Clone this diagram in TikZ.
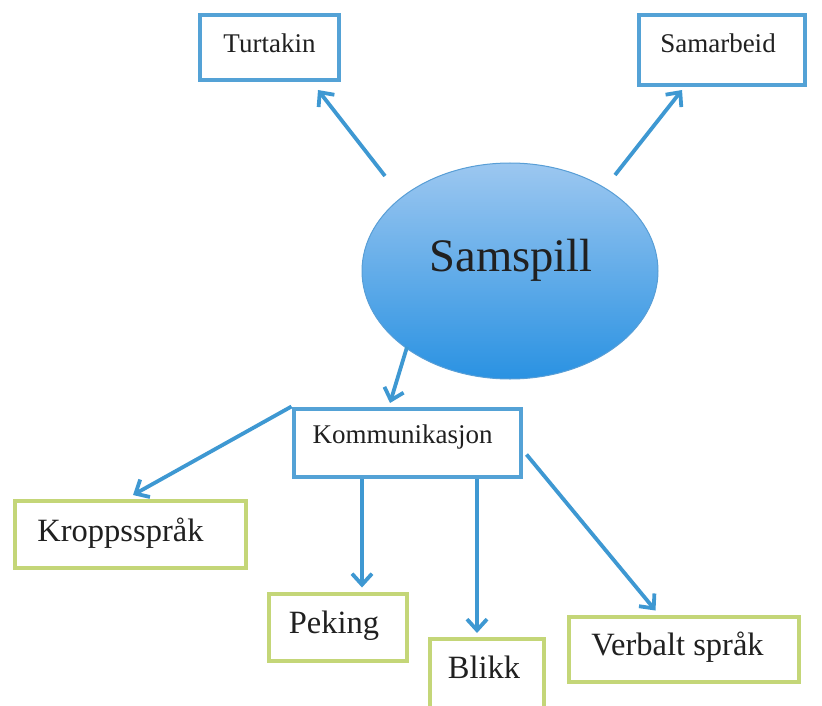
\documentclass[tikz,border=0pt]{standalone}
\usepackage{fontspec}
\setmainfont{Liberation Serif}
\usetikzlibrary{arrows.meta,calc,shapes.geometric}
\definecolor{boxblue}{RGB}{84,162,214}
\definecolor{arrblue}{RGB}{62,152,210}
\definecolor{boxgreen}{RGB}{196,214,120}
\definecolor{ellout}{RGB}{88,158,214}
\definecolor{elltop}{RGB}{156,199,240}
\definecolor{ellmid}{RGB}{118,182,236}
\definecolor{ellbot}{RGB}{42,146,226}
\definecolor{txt}{RGB}{32,32,32}
\begin{document}
\begin{tikzpicture}[x=1pt,y=-1pt,
  bbox/.style={draw=boxblue,line width=4pt,fill=white,inner sep=0pt},
  gbox/.style={draw=boxgreen,line width=4pt,fill=white,inner sep=0pt},
  lbl/.style={anchor=base,inner sep=0pt,text=txt},
  small/.style={lbl,font=\fontsize{27}{30}\selectfont},
  big/.style={lbl,font=\fontsize{32.5}{36}\selectfont},
  arr/.style={draw=arrblue,line width=3.8pt,-{Straight Barb[length=11pt,width=20pt]}}]
\useasboundingbox (0,0) rectangle (822,706);
\clip (0,0) rectangle (822,706);
% boxes
\node[bbox,minimum width=139pt,minimum height=65pt] (turt) at (269,48) {};
\node[bbox,minimum width=166pt,minimum height=70pt] (samb) at (721.5,50.5) {};
\node[bbox,minimum width=227pt,minimum height=68pt] (komm) at (407,442.5) {};
\node[gbox,minimum width=231pt,minimum height=67pt] (kropp) at (130,534) {};
\node[gbox,minimum width=138pt,minimum height=67pt] (pek) at (337.5,627) {};
\node[gbox,minimum width=114pt,minimum height=80pt] (blikk) at (486.5,679) {};
\node[gbox,minimum width=230pt,minimum height=65pt] (verb) at (683.5,649) {};
\node[ellipse,draw=ellout,line width=1pt,minimum width=296pt,minimum height=216pt,
  top color=elltop,middle color=ellmid,bottom color=ellbot,inner sep=0pt] (sam) at (510,271) {};
% texts
\node[small] (tturt) at (269.5,53) {Turtakin};
\node[small] (tsamb) at (718,53) {Samarbeid};
\node[small] (tkomm) at (402.5,443) {Kommunikasjon};
\node[big] (tkropp) at (120.5,541) {Kroppsspråk};
\node[big] (tpek) at (334,633) {Peking};
\node[big] (tblikk) at (484,678) {Blikk};
\node[big] (tverb) at (677.5,655) {Verbalt språk};
\node[lbl,font=\fontsize{46.6}{50}\selectfont] (tsam) at (511,271) {Samspill};
% connectors
\draw[arr] ($(sam.center)+(-125,-95)$) -- ($(turt.south)+(49,7.5)$);
\draw[arr] ($(sam.center)+(105,-96)$) -- ($(samb.south)+(-39.5,2.5)$);
\draw[arr] ($(sam.center)+(-103,76)$) -- ($(komm.north)+(-17,-3.5)$);
\draw[arr] (komm.north west) -- ($(kropp.north)+(3,-3.5)$);
\draw[arr] ($(komm.south)+(-45,0)$) -- ($(pek.north)+(24.5,-4)$);
\draw[arr] ($(komm.south)+(70,0)$) -- ($(blikk.north)+(-9.5,-4)$);
\draw[arr] ($(komm.east)+(4,12)$) -- ($(verb.north)+(-28,-4)$);
\end{tikzpicture}
\end{document}
